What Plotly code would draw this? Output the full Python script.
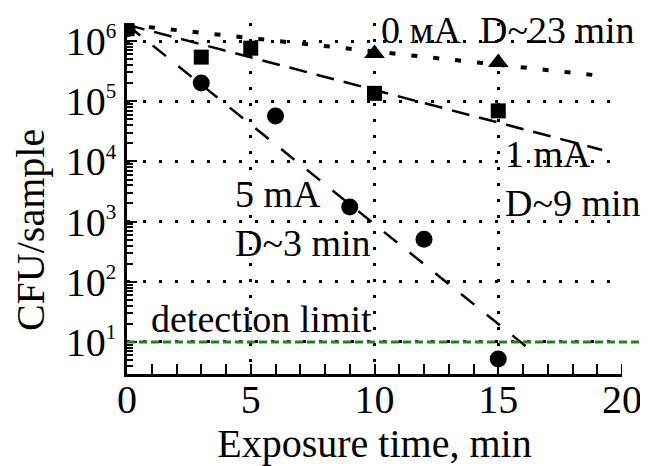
import plotly.graph_objects as go

# ---- data ----
time_5mA = [0, 3, 6, 9, 12, 15]
cfu_5mA = [1.6e6, 2.0e5, 5.7e4, 1.75e3, 5.1e2, 5.2]

time_1mA = [0, 3, 5, 10, 15]
cfu_1mA = [1.6e6, 5.4e5, 7.6e5, 1.35e5, 6.9e4]

time_0mA = [0, 10, 15]
cfu_0mA = [1.6e6, 6.2e5, 4.4e5]

fit_0mA_x = [0, 19.3]
fit_0mA_y = [1.86e6, 2.6e5]
fit_1mA_x = [0, 19.2]
fit_1mA_y = [1.86e6, 1.55e4]
fit_5mA_x = [0, 16.1]
fit_5mA_y = [1.86e6, 8.6]

detection_limit = 10

x_tickvals = [0, 5, 10, 15, 20]
y_exponents = [1, 2, 3, 4, 5, 6]

FONT = "Liberation Serif"

fig = go.Figure()

# fit lines
fig.add_trace(go.Scatter(x=fit_0mA_x, y=fit_0mA_y, mode="lines",
                         line=dict(color="black", width=4, dash="6px,16px"),
                         showlegend=False, hoverinfo="skip"))
fig.add_trace(go.Scatter(x=fit_1mA_x, y=fit_1mA_y, mode="lines",
                         line=dict(color="black", width=2.5, dash="18px,10px"),
                         showlegend=False, hoverinfo="skip"))
fig.add_trace(go.Scatter(x=fit_5mA_x, y=fit_5mA_y, mode="lines",
                         line=dict(color="black", width=2.5, dash="17px,16px"),
                         showlegend=False, hoverinfo="skip"))

# data points
fig.add_trace(go.Scatter(x=time_5mA, y=cfu_5mA, mode="markers",
                         marker=dict(symbol="circle", size=17, color="black"),
                         showlegend=False))
fig.add_trace(go.Scatter(x=time_1mA, y=cfu_1mA, mode="markers",
                         marker=dict(symbol="square", size=15, color="black"),
                         showlegend=False))
fig.add_trace(go.Scatter(x=time_0mA, y=cfu_0mA, mode="markers",
                         marker=dict(symbol="triangle-up", size=18, color="black"),
                         showlegend=False))

# detection limit line (extends slightly beyond the axis end, as in the original)
fig.add_shape(type="line", xref="paper", yref="y", x0=0, x1=1.036,
              y0=detection_limit, y1=detection_limit,
              line=dict(color="#178A17", width=3, dash="8px,4px"), layer="above")

# end tick at x = 20 (plotly drops inside ticks at the range end)
fig.add_shape(type="line", xref="x", yref="paper", x0=20, x1=20, y0=0, y1=10 / 351,
              line=dict(color="black", width=2))

ann_font = dict(family=FONT, size=38, color="black")
annotations = [
    ("0 мА  D~23 min", 10.2, 6.19),
    ("1 mA", 15.2, 4.123),
    ("D~9 min", 15.2, 3.309),
    ("5 mA", 4.3, 3.458),
    ("D~3 min", 4.3, 2.645),
    ("detection limit", 0.88, 1.382),
]
for txt, ax_, ay_ in annotations:
    fig.add_annotation(text=txt, x=ax_, y=ay_, xref="x", yref="y",
                       xanchor="left", yanchor="middle", showarrow=False,
                       font=ann_font)

# y-axis title as a rotated annotation (placed further left than plotly allows)
fig.add_annotation(text="CFU/sample", xref="paper", yref="paper",
                   x=-0.196, y=0.41, xanchor="center", yanchor="middle",
                   textangle=-90, showarrow=False,
                   font=dict(family=FONT, size=40, color="black"))

minor_y = [m * 10 ** k for k in range(0, 7) for m in range(2, 10)]

# the page body has an 8px margin, so the figure is shifted 8px right and down
fig.update_layout(
    width=640, height=458,
    margin=dict(l=119, r=26, t=15, b=92),
    plot_bgcolor="white", paper_bgcolor="white",
    font=dict(family=FONT, size=40, color="black"),
    xaxis=dict(
        range=[0, 20], tickmode="array", tickvals=x_tickvals, automargin=False,
        ticklabeloverflow="allow", ticklabelstandoff=-12,
        showline=True, linecolor="black", linewidth=2.5,
        ticks="inside", ticklen=10, tickwidth=2, tickcolor="black",
        minor=dict(ticks="inside", ticklen=10, tickwidth=2, tickcolor="black", dtick=1),
        showgrid=True, gridcolor="black", gridwidth=3, griddash="3px,13px",
        zeroline=False, tickfont=dict(family=FONT, size=40),
        title=dict(text="Exposure time, min", font=dict(family=FONT, size=40), standoff=23),
    ),
    yaxis=dict(
        type="log", range=[0.468, 6.299], tickmode="array", automargin=False,
        ticklabeloverflow="allow",
        tickvals=[10 ** e for e in y_exponents],
        ticktext=["10<sup><span style='font-size:21px'>%d</span></sup>" % e for e in y_exponents],
        showline=True, linecolor="black", linewidth=2.5,
        ticks="inside", ticklen=10, tickwidth=2, tickcolor="black",
        minor=dict(ticks="inside", ticklen=6, tickwidth=2, tickcolor="black",
                   tickmode="array", tickvals=minor_y),
        showgrid=True, gridcolor="black", gridwidth=3, griddash="3px,13px",
        zeroline=False, tickfont=dict(family=FONT, size=40),
    ),
)

fig.write_html("out.html")
